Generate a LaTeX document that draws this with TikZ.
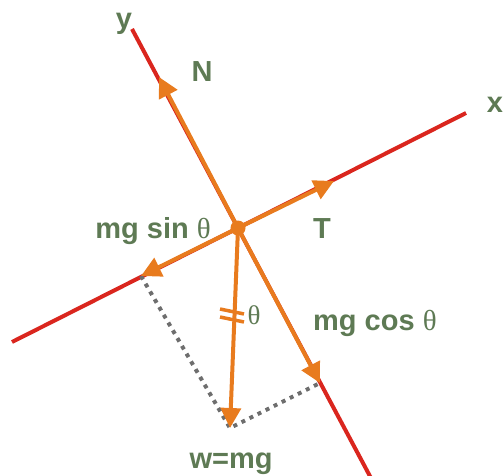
\documentclass[tikz,border=0pt]{standalone}
\usepackage{fontspec}
\setmainfont{Liberation Sans}
\newfontfamily\thfont{Liberation Serif}
\usetikzlibrary{arrows.meta}
\definecolor{axred}{RGB}{218,38,30}
\definecolor{forceor}{RGB}{232,123,30}
\definecolor{lblgreen}{RGB}{94,122,84}
\definecolor{dotgray}{RGB}{110,110,110}
\tikzset{
  axis/.style={draw=axred, line width=4pt},
  force/.style={draw=forceor, line width=4pt, -{Triangle[length=20pt,width=20pt]}, shorten >=0pt},
  helper/.style={draw=dotgray, line width=4pt, dash pattern=on 4pt off 5pt},
  lbl/.style={text=lblgreen, font=\fontsize{29}{32}\selectfont\bfseries, inner sep=0pt, anchor=base},
  thlbl/.style={text=lblgreen, font=\fontsize{27}{30}\selectfont\thfont, inner sep=0pt},
}
\begin{document}
\begin{tikzpicture}[x=1pt,y=-1pt]
\useasboundingbox (0,0) rectangle (503,476);
% axis endpoints
\coordinate (xa) at (12,342);
\coordinate (xb) at (466,113);
\coordinate (ya) at (132,29);
\coordinate (yb) at (372,480);
\coordinate (O) at (238,228);
% force tips
\coordinate (Ntip) at (159,77);
\coordinate (Ttip) at (334,181);
\coordinate (Stip) at (141,276);
\coordinate (Ctip) at (320,383);
\coordinate (Wtip) at (230,428);
% axes
\draw[axis] (xa) -- (xb);
\draw[axis] (ya) -- (yb);
% dotted projections
\draw[helper] (Stip) -- (Wtip) -- (Ctip);
% forces
\draw[force] (O) -- (Ntip);
\draw[force] (O) -- (Ttip);
\draw[force] (O) -- (Stip);
\draw[force] (O) -- (Ctip);
\draw[force] (O) -- (Wtip);
% equal marks on w
\coordinate (m1a) at (220,309);
\coordinate (m1b) at (244,314);
\coordinate (m2a) at (220,317);
\coordinate (m2b) at (244,322);
\draw[forceor, line width=3.5pt] (m1a) -- (m1b);
\draw[forceor, line width=3.5pt] (m2a) -- (m2b);
\fill[forceor] (O) circle (7.5);
% labels
\node[lbl] (ly) at (124,29) {y};
\node[lbl] (lN) at (202,82) {N};
\node[lbl] (lx) at (495,113) {x};
\node[lbl] (lT) at (322,238) {T};
\node[lbl, anchor=base east] (lS) at (211,238) {mg sin {\mdseries\thfont θ}};
\node[lbl, anchor=base west] (lC) at (313,330) {mg cos {\mdseries\thfont θ}};
\node[lbl] (lW) at (231,468) {w=mg};
\node[thlbl] (lth) at (254,315) {θ};
\end{tikzpicture}
\end{document}
